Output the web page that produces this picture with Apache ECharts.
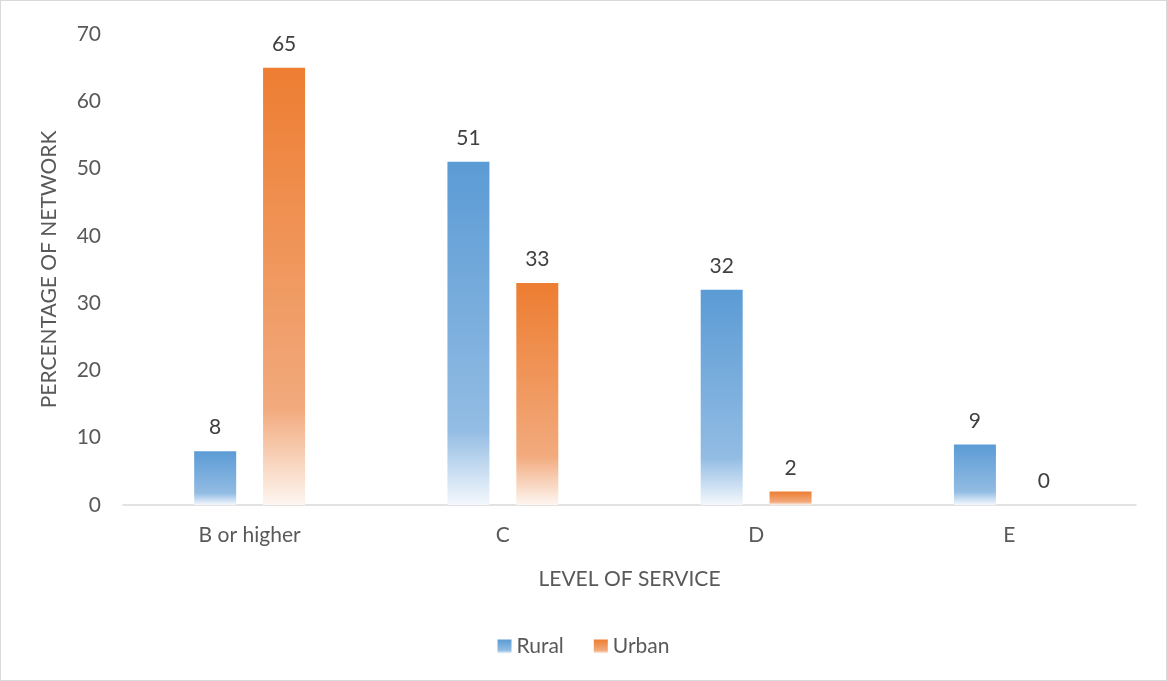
<!DOCTYPE html>
<html><head><meta charset="utf-8">
<script src="https://cdn.jsdelivr.net/npm/echarts@6/dist/echarts.min.js"></script>
<style>html,body{margin:0;padding:0;background:#fff}#c{width:1167px;height:681px;box-sizing:border-box;border:1px solid #d9d9d9}</style>
</head><body><div id="c"></div>
<script>
const categories = ['B or higher', 'C', 'D', 'E'];
const rural = [8, 51, 32, 9];
const urban = [65, 33, 2, 0];
const yTicks = [0, 10, 20, 30, 40, 50, 60, 70];

const FONT = 'Lato, "DejaVu Sans", sans-serif';
const FS = 21;
function grad(top, mid, bot) {
  return new echarts.graphic.LinearGradient(0, 0, 0, 1, [
    {offset: 0, color: top}, {offset: 0.78, color: mid}, {offset: 1, color: bot}
  ]);
}
const blueGrad = grad('#5B9BD5', '#92BCE3', '#F4F8FD');
const orangeGrad = grad('#ED7D31', '#F2AA7D', '#FDF6F1');

const chart = echarts.init(document.getElementById('c'), null, {renderer: 'canvas'});
chart.setOption({
  animation: false,
  textStyle: {fontFamily: FONT},
  grid: {left: 122, right: 30, top: 33, bottom: 175},
  legend: {
    bottom: 18, left: 'center', itemWidth: 14, itemHeight: 14, itemGap: 30,
    textStyle: {fontSize: FS, color: '#595959', fontFamily: FONT},
    data: [{name: 'Rural', icon: 'rect', itemStyle: {color: blueGrad}}, {name: 'Urban', icon: 'rect', itemStyle: {color: orangeGrad}}]
  },
  xAxis: {
    type: 'category', data: categories,
    name: 'LEVEL OF SERVICE', nameLocation: 'middle', nameGap: 64,
    nameTextStyle: {fontSize: FS, color: '#595959', fontFamily: FONT},
    axisLine: {lineStyle: {color: '#d9d9d9', width: 1.5}},
    axisTick: {show: false},
    axisLabel: {fontSize: FS, color: '#595959', margin: 20, fontFamily: FONT}
  },
  yAxis: {
    type: 'value', min: 0, max: 70, interval: 10,
    name: 'PERCENTAGE OF NETWORK', nameLocation: 'middle', nameGap: 63, nameRotate: 90,
    nameTextStyle: {fontSize: FS, color: '#595959', fontFamily: FONT},
    axisLine: {show: false}, axisTick: {show: false},
    splitLine: {show: false},
    axisLabel: {fontSize: FS, color: '#595959', margin: 22, fontFamily: FONT,
      formatter: v => yTicks.includes(v) ? String(v) : ''}
  },
  series: [
    {name: 'Rural', type: 'bar', data: rural, barWidth: 42, barGap: '64%',
     itemStyle: {color: blueGrad},
     label: {show: true, position: 'top', distance: 13, fontSize: FS, color: '#404040', fontFamily: FONT}},
    {name: 'Urban', type: 'bar', data: urban, barWidth: 42,
     itemStyle: {color: orangeGrad},
     label: {show: true, position: 'top', distance: 13, fontSize: FS, color: '#404040', fontFamily: FONT}}
  ]
});
</script></body></html>
